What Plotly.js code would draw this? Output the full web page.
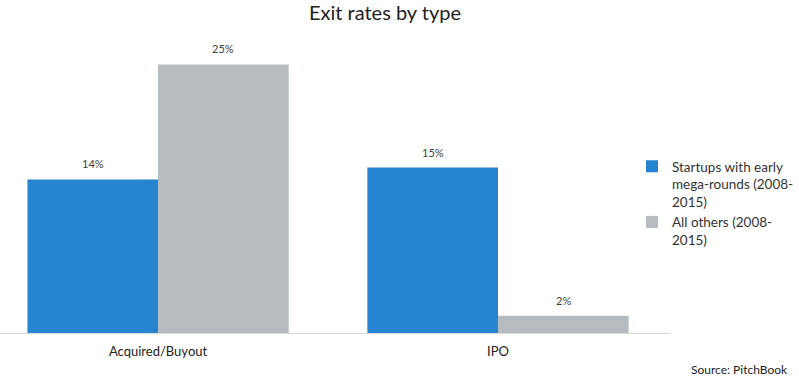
<!DOCTYPE html>
<html>
<head>
<meta charset="utf-8">
<script src="https://cdn.plot.ly/plotly-3.0.1.min.js"></script>
<style>html,body{margin:0;padding:0;background:#fff;}#chart{width:799px;height:380px;}</style>
</head>
<body>
<div id="chart"></div>
<script>
const categories = ["Acquired/Buyout", "IPO"];
const seriesNames = ["Startups with early<br>mega-rounds (2008-<br>2015)", "All others (2008-<br>2015)"];
const megaRoundValues = [14.3, 15.4];
const allOthersValues = [25.0, 1.6];
const megaRoundLabels = ["14%", "15%"];
const allOthersLabels = ["25%", "2%"];

const fontFamily = "Lato, 'Open Sans', sans-serif";

const traces = [
  {
    type: "bar", name: seriesNames[0], x: categories, y: megaRoundValues,
    marker: {color: "#2784d0"}, hoverinfo: "none"
  },
  {
    type: "bar", name: seriesNames[1], x: categories, y: allOthersValues,
    marker: {color: "#b7bbc0"}, hoverinfo: "none"
  }
];

// value labels above bars, built from the data arrays
const labelAnnotations = [];
const groups = [[megaRoundValues, megaRoundLabels, -65], [allOthersValues, allOthersLabels, 65]];
groups.forEach(([vals, labs, shift]) => {
  categories.forEach((c, i) => {
    labelAnnotations.push({
      x: c, y: vals[i], xref: "x", yref: "y", text: labs[i], showarrow: false,
      xshift: shift, yshift: 7, yanchor: "bottom", xanchor: "center",
      font: {size: 11, color: "#404040", family: fontFamily}
    });
  });
});

const layout = {
  width: 799, height: 380,
  margin: {l: 0, r: 129, t: 40, b: 47, autoexpand: false},
  paper_bgcolor: "#fff", plot_bgcolor: "#fff",
  font: {family: fontFamily, color: "#404040", size: 12},
  title: {text: "Exit rates by type", xref: "container", x: 385/799, xanchor: "center",
          yref: "container", y: 0.985, yanchor: "top",
          font: {size: 20, color: "#222", family: fontFamily}},
  barmode: "group", bargap: 0.2314, bargroupgap: 0,
  xaxis: {
    range: [-0.465, 1.506], showline: true, linecolor: "#d9d9d9", linewidth: 1,
    ticks: "outside", ticklen: 6, tickcolor: "rgba(0,0,0,0)",
    showgrid: false, zeroline: false, fixedrange: true,
    tickfont: {size: 13, color: "#222", family: fontFamily}
  },
  yaxis: {range: [0, 27.28], visible: false, showgrid: false, zeroline: false, fixedrange: true},
  showlegend: true,
  legend: {
    xref: "container", x: 632/799, xanchor: "left", yref: "container", y: 1 - 151/380, yanchor: "top", valign: "top",
    font: {size: 13.5, color: "#333", family: fontFamily},
    itemwidth: 30, tracegroupgap: 6, bgcolor: "rgba(0,0,0,0)"
  },
  annotations: labelAnnotations.concat([{
    text: "Source: PitchBook", xref: "paper", yref: "paper", x: 790/670, y: -37/293,
    xanchor: "right", yanchor: "middle", showarrow: false,
    font: {size: 12, color: "#222", family: fontFamily}
  }])
};

Plotly.newPlot("chart", traces, layout, {displayModeBar: false, staticPlot: true});
</script>
</body>
</html>
